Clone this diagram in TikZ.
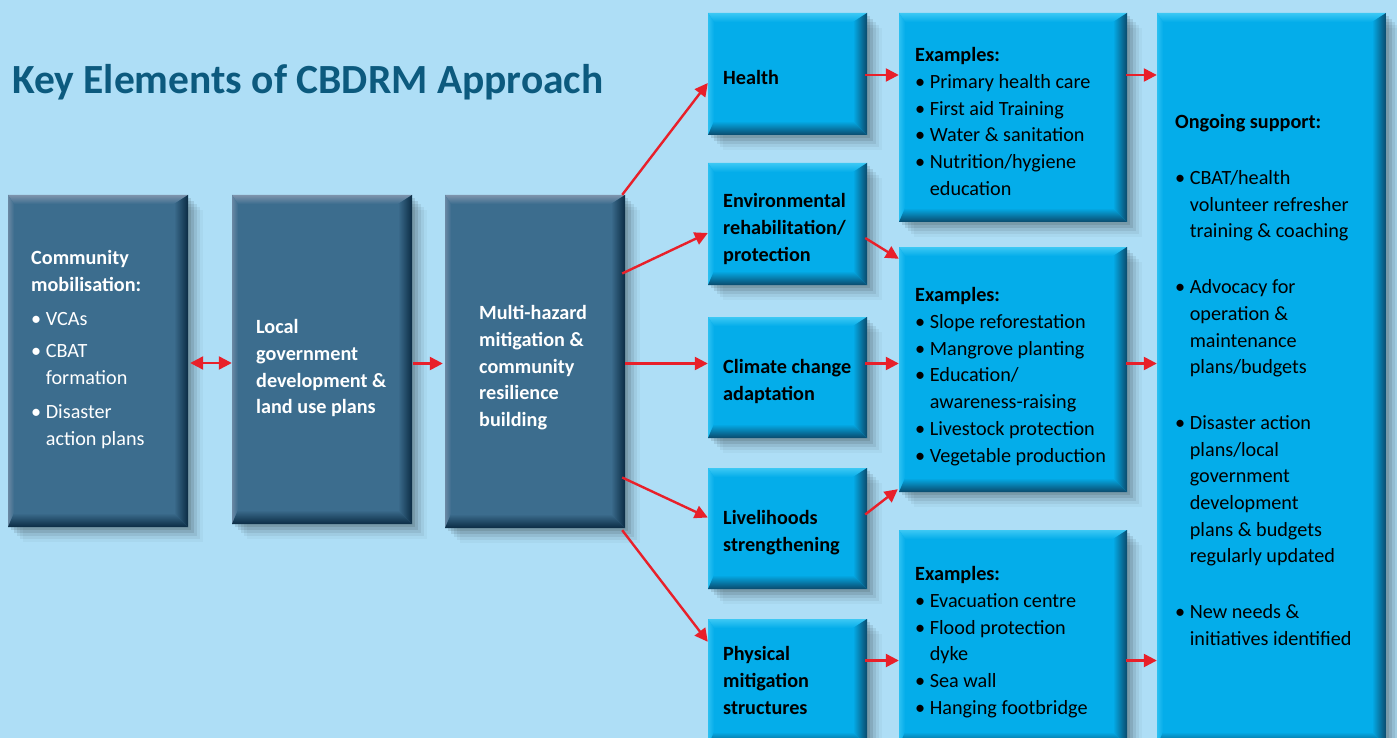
\documentclass[tikz,border=0pt]{standalone}
\usepackage{fontspec}
\setmainfont{Carlito}
\usetikzlibrary{arrows.meta,calc,fit}

\definecolor{bgblue}{HTML}{AEDEF6}
\definecolor{titleblue}{HTML}{0C5A7E}
\definecolor{slatemain}{HTML}{3C6D8E}
\definecolor{slateedge}{HTML}{0B2C44}
\definecolor{slatelight}{HTML}{7D93AC}
\definecolor{cyanmain}{HTML}{04ADEA}
\definecolor{cyanedge}{HTML}{0A4A6C}
\definecolor{cyanlight}{HTML}{3CC8F4}
\definecolor{arrred}{HTML}{E8202A}

% bevelled box: name, x1, y1, x2, y2, face, dark edge, light edge
\newcommand\bevelbox[8]{%
  \foreach \s/\o in {3/0.10,6/0.09,9/0.07,12/0.05,15/0.03}
    \fill[black,opacity=\o] (#2+\s,#3+\s) rectangle (#4+\s,#5+\s);
  \fill[#6] (#2,#3) rectangle (#4,#5);
  \shade[top color=#8,bottom color=#6] (#2,#3) -- (#4,#3) -- (#4-14,#3+9) -- (#2+6,#3+9) -- cycle;
  \shade[left color=#8!70!#6,right color=#6] (#2,#3) -- (#2+6,#3+9) -- (#2+6,#5-14) -- (#2,#5) -- cycle;
  \shade[left color=#6,right color=#7] (#4,#3) -- (#4,#5) -- (#4-14,#5-14) -- (#4-14,#3+9) -- cycle;
  \shade[top color=#6,bottom color=#7] (#2,#5) -- (#4,#5) -- (#4-14,#5-14) -- (#2+6,#5-14) -- cycle;
  \node[fit={(#2,#3) (#4,#5)},inner sep=0pt] (#1) {};
}

\tikzset{
  arr/.style={draw=arrred,line width=2.4pt,-{Triangle[length=13pt,width=13pt]}},
  darr/.style={draw=arrred,line width=2.4pt,{Triangle[length=13pt,width=13pt]}-{Triangle[length=13pt,width=13pt]}},
  txt/.style={anchor=north west,inner sep=0pt,align=left,font=\fontsize{20.2}{26.7}\selectfont},
  btxt/.style={txt,font=\bfseries\fontsize{20.2}{26.7}\selectfont},
  wtxt/.style={txt,text=white},
  ktxt/.style={txt,text=black},
}
\newcommand\ind{\hphantom{•\ }}

\begin{document}
\begin{tikzpicture}[x=1pt,y=-1pt]
\clip (0,0) rectangle (1397,738);
\fill[bgblue] (0,0) rectangle (1397,738);

% title
\node[anchor=base west,inner sep=0pt,text=titleblue,font=\bfseries\fontsize{41.5}{46}\selectfont] (title) at (12,94) {Key Elements of CBDRM Approach};

% main chain
\bevelbox{A}{8}{195}{188}{527}{slatemain}{slateedge}{slatelight}
\bevelbox{B}{232}{195}{412}{524}{slatemain}{slateedge}{slatelight}
\bevelbox{C}{445}{195}{625}{528}{slatemain}{slateedge}{slatelight}

% focus areas
\bevelbox{Hea}{708}{13}{867}{135}{cyanmain}{cyanedge}{cyanlight}
\bevelbox{Env}{708}{163}{867}{285}{cyanmain}{cyanedge}{cyanlight}
\bevelbox{Cli}{708}{317}{867}{438}{cyanmain}{cyanedge}{cyanlight}
\bevelbox{Liv}{708}{468}{867}{589}{cyanmain}{cyanedge}{cyanlight}
\bevelbox{Phy}{708}{619}{867}{746}{cyanmain}{cyanedge}{cyanlight}

% examples
\bevelbox{ExA}{899}{13}{1127}{222}{cyanmain}{cyanedge}{cyanlight}
\bevelbox{ExB}{899}{247}{1127}{492}{cyanmain}{cyanedge}{cyanlight}
\bevelbox{ExC}{899}{530}{1127}{746}{cyanmain}{cyanedge}{cyanlight}

% ongoing support
\bevelbox{Ong}{1157}{13}{1386}{746}{cyanmain}{cyanedge}{cyanlight}

% texts
\node[wtxt] (tA) at (31,246) {\strut\textbf{Community}\\\textbf{mobilisation:}\\[7pt]
  • VCAs\\[6pt] • CBAT\\\ind formation\\[7pt] • Disaster\\\ind action plans};
\node[btxt,text=white] (tB) at (256,315) {\strut Local\\government\\development \&\\land use plans};
\node[btxt,text=white] (tC) at (479,301) {\strut Multi-hazard\\mitigation \&\\community\\resilience\\building};

\node[btxt,text=black] (tHea) at (723,66) {\strut Health};
\node[btxt,text=black] (tEnv) at (723,189) {\strut Environmental\\rehabilitation/\\protection};
\node[btxt,text=black] (tCli) at (723,355) {\strut Climate change\\adaptation};
\node[btxt,text=black] (tLiv) at (723,506) {\strut Livelihoods\\strengthening};
\node[btxt,text=black] (tPhy) at (723,642) {\strut Physical\\mitigation\\structures};

\node[ktxt] (tExA) at (915,43) {\strut\textbf{Examples:}\\ • Primary health care\\ • First aid Training\\ • Water \& sanitation\\ • Nutrition/hygiene\\\ind education};
\node[ktxt] (tExB) at (915,283) {\strut\textbf{Examples:}\\ • Slope reforestation\\ • Mangrove planting\\ • Education/\\\ind awareness-raising\\ • Livestock protection\\ • Vegetable production};
\node[ktxt] (tExC) at (915,562) {\strut\textbf{Examples:}\\ • Evacuation centre\\ • Flood protection\\\ind dyke\\ • Sea wall\\ • Hanging footbridge};

\node[ktxt] (tOng) at (1175,110) {\strut\textbf{Ongoing support:}\\[29pt]
  • CBAT/health\\\ind volunteer refresher\\\ind training \& coaching\\[29pt]
  • Advocacy for\\\ind operation \&\\\ind maintenance\\\ind plans/budgets\\[29pt]
  • Disaster action\\\ind plans/local\\\ind government\\\ind development\\\ind plans \& budgets\\\ind regularly updated\\[29pt]
  • New needs \&\\\ind initiatives identified};

% connectors
\coordinate (aB) at ($(A.east)+(2,2)$);
\draw[darr] (aB) -- (aB -| B.west);
\coordinate (bC) at ($(B.east)+(1,4)$);
\draw[arr] (bC) -- ($(bC -| C.west)+(-2,0)$);

\draw[arr] ($(C.north east)+(-3,0)$) -- ($(Hea.west)+(0,9)$);
\draw[arr] ($(C.east)+(-3,-88)$) -- ($(Env.west)+(0,9)$);
\coordinate (cCli) at ($(C.east)+(0,2)$);
\draw[arr] (cCli) -- (cCli -| Cli.west);
\draw[arr] ($(C.east)+(-3,116)$) -- ($(Liv.west)+(0,-11)$);
\draw[arr] ($(C.south east)+(-3,2)$) -- ($(Phy.north west)+(0,23)$);

\coordinate (hE) at ($(Hea.east)+(-2,1)$);
\draw[arr] (hE) -- (hE -| ExA.west);
\draw[arr] ($(Env.east)+(-2,14)$) -- ($(ExB.north west)+(0,12)$);
\coordinate (cE) at ($(Cli.east |- cCli)+(-2,0)$);
\draw[arr] (cE) -- (cE -| ExB.west);
\draw[arr] ($(Liv.east)+(-2,-14)$) -- ($(ExB.south west)+(-1,-3)$);
\coordinate (pE) at ($(Phy.east)+(-2,-22)$);
\draw[arr] (pE) -- (pE -| ExC.west);

\coordinate (eA) at ($(ExA.east |- hE)+(-1,0)$);
\draw[arr] (eA) -- (eA -| Ong.west);
\coordinate (eB) at ($(ExB.east |- cCli)+(-1,0)$);
\draw[arr] (eB) -- (eB -| Ong.west);
\coordinate (eC) at ($(ExC.east |- pE)+(-1,0)$);
\draw[arr] (eC) -- (eC -| Ong.west);
\end{tikzpicture}
\end{document}
